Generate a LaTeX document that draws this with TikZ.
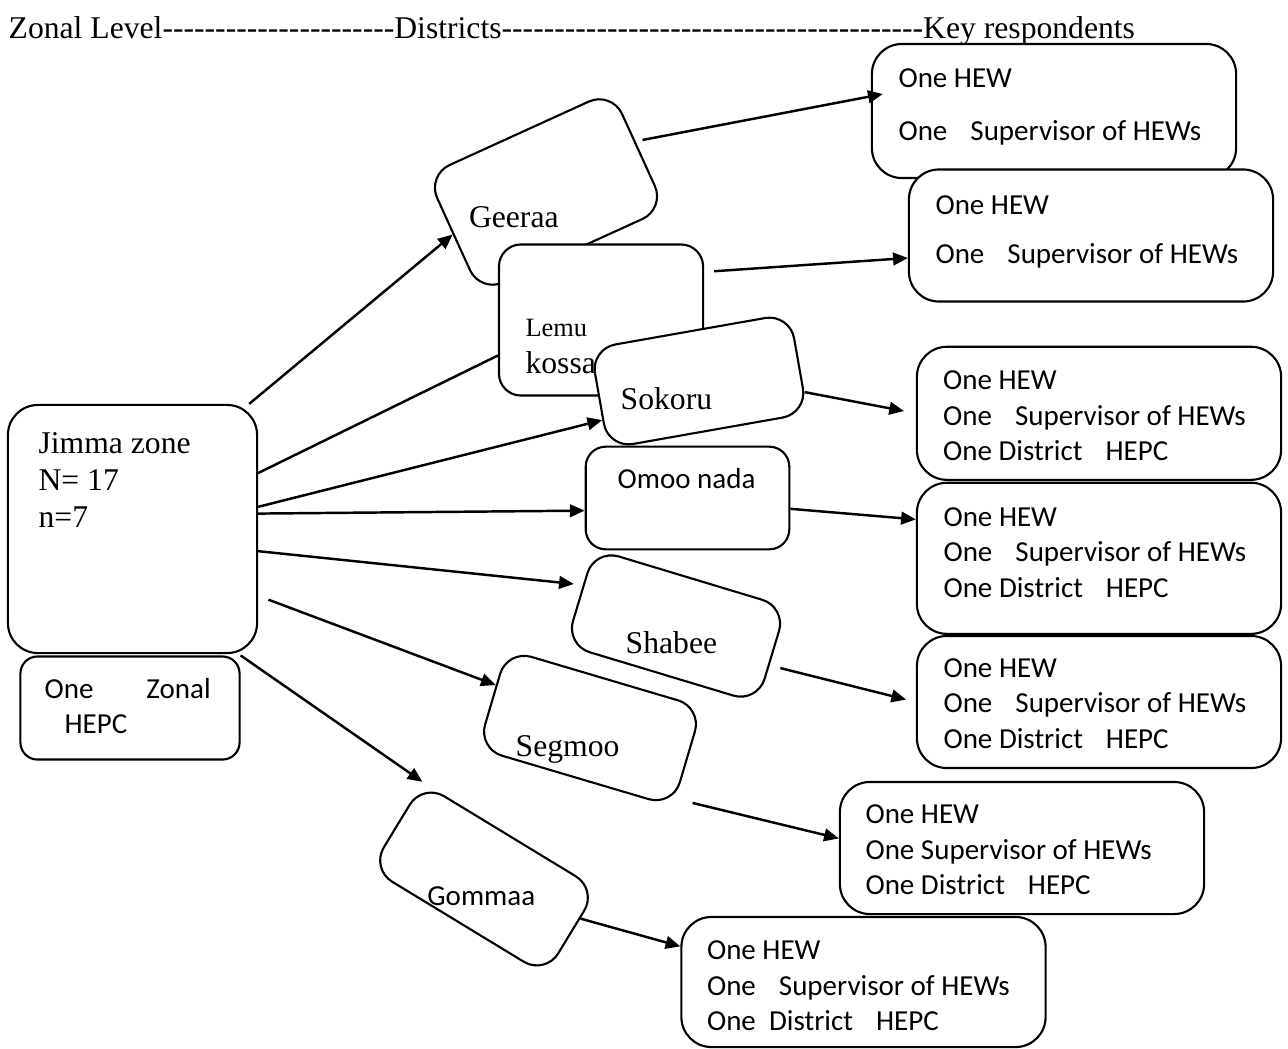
\documentclass[tikz,border=0pt]{standalone}
\usepackage{fontspec}
\setmainfont{Liberation Serif}
\newfontfamily\calibrifont{Carlito}
\usetikzlibrary{arrows.meta, positioning}
\newcommand\dashrun[1]{\foreach \i in {1,...,#1}{-\kern0pt}}
\newcommand\wgap{\hspace{0.23cm}}

\begin{document}
\begin{tikzpicture}[x=0.01cm, y=-0.01cm,
    box/.style={draw, line width=0.6pt, fill=white, inner sep=0pt, rounded corners=0.25cm},
    dist/.style={box, minimum width=2.03cm, minimum height=1.01cm},
    resp/.style={box, minimum width=3.64cm, minimum height=1.32cm, rounded corners=0.3cm},
    romanlabel/.style={inner sep=0pt, align=left, anchor=base west, font=\fontsize{9}{10.5}\selectfont},
    sanslabel/.style={inner sep=0pt, align=left, anchor=base west, font=\calibrifont\fontsize{8.25}{10.1}\selectfont},
    link/.style={-{Triangle[length=4.2pt, width=3.6pt]}, line width=0.7pt}]

    \useasboundingbox (0,0) rectangle (1288,1048);

    \node[romanlabel] (head) at (8,38) {Zonal Level\dashrun{22}Districts\dashrun{40}Key respondents};

    % zonal level (text anchored on its last line)
    \node[box, minimum width=2.49cm, minimum height=2.48cm, rounded corners=0.3cm] (jimma) at (132.5,529) {};
    \node[romanlabel] (jimma-t) at ([shift={(31,123.3)}]jimma.north west) {Jimma zone\\N= 17\\n=7};
    \node[box, minimum width=2.19cm, minimum height=1.03cm, rounded corners=0.17cm] (hepc) at (130,708) {};
    \node[sanslabel] (hepc-t) at ([shift={(24.5,78.5)}]hepc.north west) {One\hspace{0.53cm}Zonal\\\hspace*{0.2cm}HEPC};

    % districts
    \node[dist, minimum height=1.29cm, rotate=24.5] (geeraa) at (546,192) {};
    \node[romanlabel] (geeraa-t) at ([shift={(-77.7,35.3)}]geeraa.center) {Geeraa};
    \node[box, minimum width=2.04cm, minimum height=1.51cm, rounded corners=0.22cm] (lemu) at (601,320) {};
    \node[romanlabel] (lemu-t) at ([shift={(27,130.5)}]lemu.north west) {{\fontsize{7.5}{9}\selectfont Lemu}\\kossa};
    \node[dist, minimum width=2.02cm, rotate=10] (sokoru) at (699,381) {};
    \node[romanlabel] (sokoru-t) at ([shift={(-79,28)}]sokoru.center) {Sokoru};
    \node[box, minimum width=2.035cm, minimum height=1.026cm, rounded corners=0.2cm] (omoo) at (687.5,498) {};
    \node[sanslabel] (omoo-t) at ([shift={(32.3,43.3)}]omoo.north west) {Omoo nada};
    \node[dist, minimum width=2.0cm, minimum height=1.0cm, rotate=-16.8] (shabee) at (676,626) {};
    \node[romanlabel] (shabee-t) at ([shift={(-51,27.3)}]shabee.center) {Shabee};
    \node[dist, minimum height=1.03cm, rotate=-16.5] (segmoo) at (590,728) {};
    \node[romanlabel] (segmoo-t) at ([shift={(-75,28.7)}]segmoo.center) {Segmoo};
    \node[dist, minimum width=2.04cm, minimum height=1.0cm, rotate=-31.3] (gommaa) at (484,879) {};
    \node[sanslabel] (gommaa-t) at ([shift={(-57.3,26)}]gommaa.center) {Gommaa};

    % key respondents
    \node[resp, minimum height=1.34cm] (r1) at (1054,111) {};
    \node[sanslabel] (r1-t) at ([shift={(27,97.7)}]r1.north west) {One HEW\\[5pt]One\wgap Supervisor of HEWs};
    \node[resp] (r2) at (1091,235.5) {};
    \node[sanslabel] (r2-t) at ([shift={(27,95.5)}]r2.north west) {One HEW\\[4pt]One\wgap Supervisor of HEWs};
    \node[resp, minimum height=1.33cm] (r3) at (1099,413.3) {};
    \node[sanslabel] (r3-t) at ([shift={(26.6,114.9)}]r3.north west) {One HEW\\One\wgap Supervisor of HEWs\\One District\wgap HEPC};
    \node[resp, minimum height=1.51cm] (r4) at (1099,558.3) {};
    \node[sanslabel] (r4-t) at ([shift={(27,115.5)}]r4.north west) {One HEW\\One\wgap Supervisor of HEWs\\One District\wgap HEPC};
    \node[resp] (r5) at (1099,702) {};
    \node[sanslabel] (r5-t) at ([shift={(27,113.3)}]r5.north west) {One HEW\\One\wgap Supervisor of HEWs\\One District\wgap HEPC};
    \node[resp] (r6) at (1022,848) {};
    \node[sanslabel] (r6-t) at ([shift={(26,114)}]r6.north west) {One HEW\\One Supervisor of HEWs\\One District\wgap HEPC};
    \node[resp, minimum height=1.3cm] (r7) at (863.5,982) {};
    \node[sanslabel] (r7-t) at ([shift={(26,115)}]r7.north west) {One HEW\\One\wgap Supervisor of HEWs\\One\ \ District\wgap HEPC};

    % zone to districts
    \draw[link] (jimma.47) -- (geeraa.west);
    \draw[line width=0.7pt] (jimma.24) -- (lemu.199);
    \draw[link] (jimma.10) -- (sokoru.192);
    \draw[link] (jimma.7) -- (omoo.187);
    \draw[link, shorten >=0.09cm] (jimma.-10) -- (shabee.173);
    \draw[link, shorten <=0.11cm] (jimma.-28) -- (segmoo.172);
    \draw[link] (hepc.north east) -- (gommaa.north west);

    % districts to respondents
    \draw[link, shorten <=0.07cm] (geeraa.5) -- ([shift={(12,-17)}]r1.west);
    \draw[link, shorten <=0.1cm] (lemu.25) -- (r2.187);
    \draw[link, shorten >=0.12cm] (sokoru.-16) -- (r3.west);
    \draw[link] (omoo.-6) -- (r4.168);
    \draw[link, shorten <=0.11cm, shorten >=0.1cm] (shabee.-6) -- (r5.west);
    \draw[link, shorten <=0.17cm] (segmoo.-23) -- (r6.177);
    \draw[link] (gommaa.9) -- (r7.169);

\end{tikzpicture}
\end{document}
